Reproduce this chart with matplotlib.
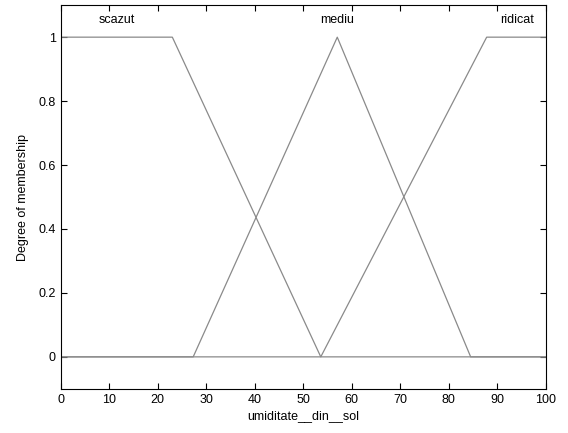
import numpy as np
import matplotlib
matplotlib.use("Agg")
import matplotlib.pyplot as plt

# membership functions of umiditate__din__sol
x_min, x_max = 0, 100
mf_names = ["scazut", "mediu", "ridicat"]
mf_x = [
    [0, 0, 23, 53.6, 100],       # scazut (trapmf)
    [0, 27.3, 57, 84.5, 100],    # mediu (trimf)
    [0, 53.6, 87.8, 100, 100],   # ridicat (trapmf)
]
mf_y = [
    [1, 1, 1, 0, 0],
    [0, 0, 1, 0, 0],
    [0, 0, 1, 1, 1],
]
label_x = [11.5, 57, 94]

plt.rcParams.update({
    "font.family": ["Liberation Sans", "DejaVu Sans"],
    "font.size": 9,
})

fig = plt.figure(figsize=(5.68, 4.33), dpi=100)
ax = fig.add_axes([0.107, 0.102, 0.854, 0.886])

for xs, ys, name, lx in zip(mf_x, mf_y, mf_names, label_x):
    ax.plot(xs, ys, color="#8a8a8a", linewidth=0.9)
    ax.text(lx, 1.035, name, ha="center", va="bottom")

ax.set_xlim(x_min, x_max)
ax.set_ylim(-0.1, 1.1)
ax.set_xticks(np.arange(0, 101, 10))
ax.set_yticks([0, 0.2, 0.4, 0.6, 0.8, 1])
ax.set_yticklabels(["0", "0.2", "0.4", "0.6", "0.8", "1"])
ax.tick_params(direction="in", top=True, right=True, length=4, width=0.8)
for s in ax.spines.values():
    s.set_linewidth(0.8)
ax.set_xlabel("umiditate__din__sol", labelpad=3)
ax.set_ylabel("Degree of membership", labelpad=7)

fig.savefig("out.png", dpi=100, facecolor="white")
